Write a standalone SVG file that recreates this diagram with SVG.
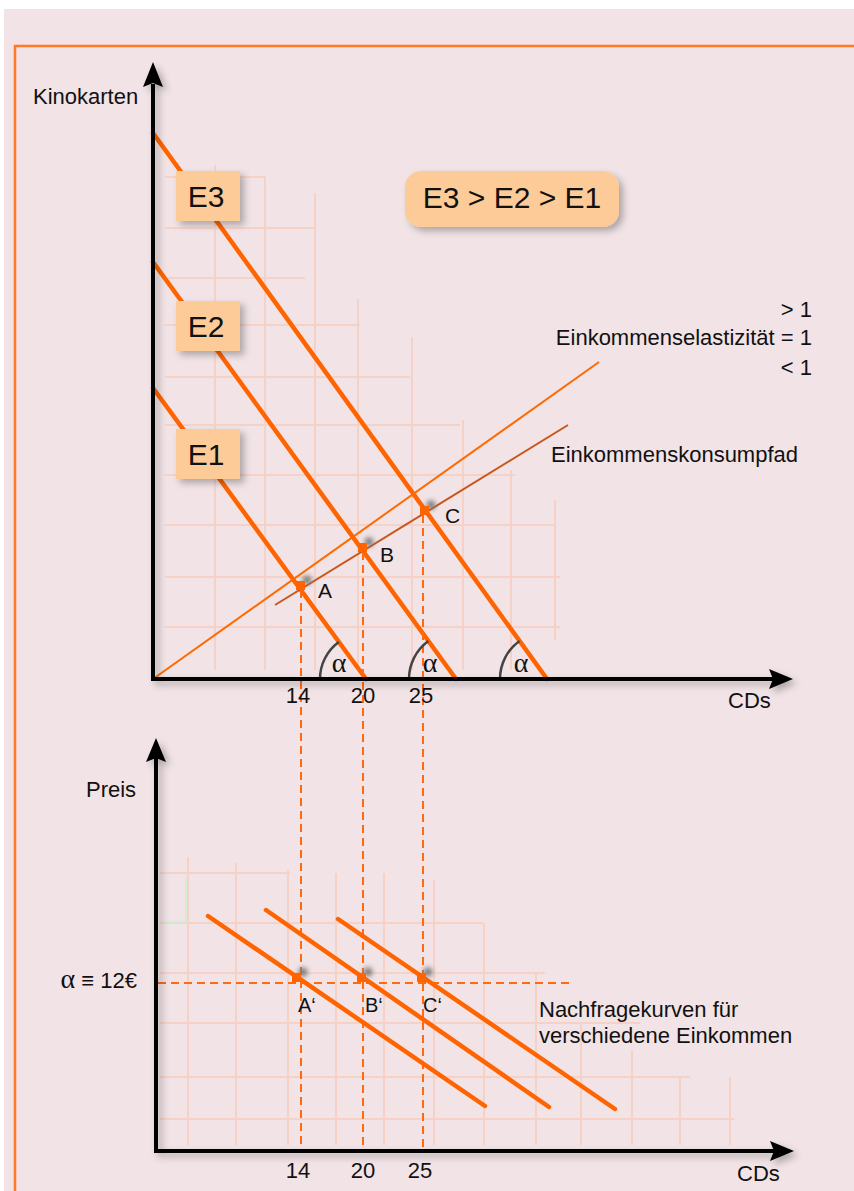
<svg xmlns="http://www.w3.org/2000/svg" width="854" height="1191" viewBox="0 0 854 1191">
<defs>
<style>
text{font-family:"Liberation Sans",Arial,sans-serif;fill:#111}
.lbl{font-size:22px}
.big{font-size:30px}
.pt{font-size:21px}
.grid{stroke:#f6d2c6;stroke-width:2;fill:none}
.gridg{stroke:#d2edd2;stroke-width:2;fill:none}
.axis{stroke:#000;stroke-width:4;fill:none}
.budget{stroke:#ff6400;stroke-width:4.5;fill:none;stroke-linecap:round}
.demand{stroke:#ff6400;stroke-width:4.5;fill:none;stroke-linecap:round}
.dash{stroke:#ff6a10;stroke-width:2;stroke-dasharray:8 5;fill:none}
.arc{stroke:#444;stroke-width:2.5;fill:none}
.alpha{font-family:"Liberation Serif","DejaVu Serif",serif;font-size:28px}
.box{fill:#fdcb97}
.mk{fill:#ff6400}
</style>
<filter id="sh" x="-20%" y="-20%" width="160%" height="160%">
<feDropShadow dx="4" dy="4" stdDeviation="3.5" flood-color="#000" flood-opacity="0.28"/>
</filter>
<filter id="blur" x="-100%" y="-100%" width="300%" height="300%">
<feGaussianBlur stdDeviation="2.5"/>
</filter>
</defs>

<rect x="0" y="0" width="854" height="1191" fill="#ffffff"/>
<rect x="4" y="9" width="850" height="1182" fill="#f1e3e6"/>
<g id="border" stroke="#ff7a22" stroke-width="2.5" fill="none">
<line x1="14" y1="46" x2="854" y2="46"/>
<line x1="15" y1="45" x2="15" y2="1191"/>
</g>

<g id="grid-upper">
<path class="grid" d="M215,165V670 M265,177V670 M315,193V670 M358,299V670 M412,337V670 M463,420V670 M511,470V670 M555,500V640"/>
<path class="grid" d="M165,177H265 M165,228H315 M165,278H305 M165,325H360 M165,377H410 M165,425H460 M165,475H515 M165,525H555 M165,577H560 M165,627H560"/>
</g>
<g id="grid-lower">
<path class="grid" d="M188,857V1145 M236,863V1145 M288,870V1145 M336,873V1145 M384,873V1145 M434,880V1145 M484,923V1145 M536,973V1145 M581,1023V1145 M632,1050V1145 M680,1077V1145 M730,1077V1145"/>
<path class="grid" d="M160,873H290 M160,923H483 M160,973H545 M160,1023H640 M160,1077H690 M160,1119H734"/>
<path class="gridg" d="M186,878V922 M163,922H186"/>
</g>

<g id="connectors">
<line class="budget" x1="153" y1="388" x2="366" y2="679"/>
<line class="budget" x1="153" y1="262" x2="456" y2="679"/>
<line class="budget" x1="153" y1="133" x2="547" y2="679"/>
<line x1="153" y1="679" x2="599" y2="362" stroke="#ff6a00" stroke-width="2"/>
<line x1="275" y1="605" x2="568" y2="425" stroke="#c8561a" stroke-width="2"/>
<line class="dash" x1="301" y1="590" x2="301" y2="1151"/>
<line class="dash" x1="363" y1="552" x2="363" y2="1151"/>
<line class="dash" x1="423" y1="515" x2="423" y2="1151"/>
<line class="dash" x1="158" y1="983" x2="570" y2="983"/>
<line class="demand" x1="208" y1="916" x2="485" y2="1106"/>
<line class="demand" x1="266" y1="910" x2="549" y2="1107"/>
<line class="demand" x1="338" y1="919" x2="615" y2="1109"/>
<path class="arc" d="M320,679 A46,46 0 0,1 338.8,641.9"/>
<path class="arc" d="M409,679 A47,47 0 0,1 428.4,641"/>
<path class="arc" d="M500,679 A47,47 0 0,1 519.5,640.9"/>
</g>

<g id="axes" filter="url(#sh)">
<path class="axis" d="M153,84V679H774"/>
<path d="M153,62L163,87L153,83L143,87Z" fill="#000"/>
<path d="M793,679L769,669L773,679L769,689Z" fill="#000"/>
<path class="axis" d="M156,758V1151H774"/>
<path d="M156,738L166,762L156,758L146,762Z" fill="#000"/>
<path d="M794,1151L770,1141L774,1151L770,1161Z" fill="#000"/>
</g>

<g id="node-E3"><rect class="box" x="176" y="171" width="64" height="50" filter="url(#sh)"/><text class="big" x="206" y="207" text-anchor="middle">E3</text></g>
<g id="node-E2"><rect class="box" x="176" y="301" width="64" height="50" filter="url(#sh)"/><text class="big" x="206" y="337" text-anchor="middle">E2</text></g>
<g id="node-E1"><rect class="box" x="176" y="429" width="64" height="50" filter="url(#sh)"/><text class="big" x="206" y="465" text-anchor="middle">E1</text></g>
<g id="node-compare"><rect class="box" x="405" y="171" width="214" height="56" rx="16" filter="url(#sh)"/><text class="big" x="512" y="208" text-anchor="middle">E3 &gt; E2 &gt; E1</text></g>

<g id="node-A"><circle cx="307" cy="580" r="4.5" fill="#777" filter="url(#blur)"/><rect class="mk" x="296" y="581" width="9" height="9"/><text class="pt" x="318" y="598">A</text></g>
<g id="node-B"><circle cx="369" cy="542" r="4.5" fill="#777" filter="url(#blur)"/><rect class="mk" x="358" y="543" width="9" height="9"/><text class="pt" x="380" y="562">B</text></g>
<g id="node-C"><circle cx="431" cy="505" r="4.5" fill="#777" filter="url(#blur)"/><rect class="mk" x="420" y="506" width="9" height="9"/><text class="pt" x="445" y="523">C</text></g>

<g id="node-A2"><circle cx="303" cy="972" r="4.5" fill="#777" filter="url(#blur)"/><rect class="mk" x="292" y="973" width="9" height="9"/><text class="pt" x="298" y="1012" style="font-size:20px">A‘</text></g>
<g id="node-B2"><circle cx="368" cy="972" r="4.5" fill="#777" filter="url(#blur)"/><rect class="mk" x="357" y="973" width="9" height="9"/><text class="pt" x="365" y="1012" style="font-size:20px">B‘</text></g>
<g id="node-C2"><circle cx="428" cy="972" r="4.5" fill="#777" filter="url(#blur)"/><rect class="mk" x="417" y="973" width="9" height="9"/><text class="pt" x="423" y="1012" style="font-size:20px">C‘</text></g>

<g id="labels">
<text class="lbl" x="33" y="104">Kinokarten</text>
<text class="lbl" x="728" y="708">CDs</text>
<text class="lbl" x="298" y="703" text-anchor="middle">14</text>
<text class="lbl" x="363" y="703" text-anchor="middle">20</text>
<text class="lbl" x="421" y="703" text-anchor="middle">25</text>
<text class="alpha" x="339" y="672" text-anchor="middle">α</text>
<text class="alpha" x="430" y="672" text-anchor="middle">α</text>
<text class="alpha" x="521" y="672" text-anchor="middle">α</text>
<text class="lbl" x="812" y="317" text-anchor="end">&gt; 1</text>
<text class="lbl" x="812" y="345" text-anchor="end">Einkommenselastizität = 1</text>
<text class="lbl" x="812" y="375" text-anchor="end">&lt; 1</text>
<text class="lbl" x="551" y="462">Einkommenskonsumpfad</text>
<text class="lbl" x="86" y="797">Preis</text>
<text class="lbl" x="137" y="988" text-anchor="end"><tspan style="font-family:'Liberation Serif',serif;font-size:28px">α</tspan> ≡ 12€</text>
<text class="lbl" x="298" y="1178" text-anchor="middle">14</text>
<text class="lbl" x="363" y="1178" text-anchor="middle">20</text>
<text class="lbl" x="420" y="1178" text-anchor="middle">25</text>
<text class="lbl" x="737" y="1181">CDs</text>
<text class="lbl" x="539" y="1017">Nachfragekurven für</text>
<text class="lbl" x="539" y="1043">verschiedene Einkommen</text>
</g>
</svg>
